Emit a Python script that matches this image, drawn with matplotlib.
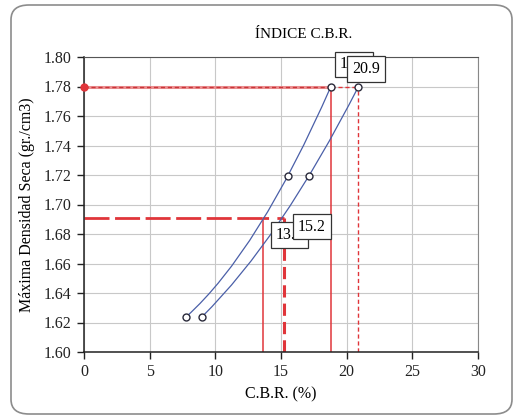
import numpy as np
import matplotlib.pyplot as plt
from matplotlib.path import Path
from matplotlib.patches import PathPatch, FancyBboxPatch

# ---------------- DATA ----------------
cbr_a = [7.8, 15.5, 18.8]
dens_a = [1.624, 1.719, 1.780]
cbr_b = [9.0, 17.1, 20.9]
dens_b = [1.624, 1.719, 1.780]

dens_max = 1.780
dens_95 = 1.691
cbr_95_a = 13.6
cbr_95_b = 15.2
cbr_100_a = 18.8
cbr_100_b = 20.9

x_ticks = [0, 5, 10, 15, 20, 25, 30]
y_ticks = [1.60, 1.62, 1.64, 1.66, 1.68, 1.70, 1.72, 1.74, 1.76, 1.78, 1.80]

plt.rcParams['font.family'] = ['Liberation Serif', 'DejaVu Serif']

BLUE = '#4a5fa8'
RED = '#e0353a'
LIGHT_RED = '#eb8f90'


# 2nd order trend curve through the 3 points, drawn as one quadratic bezier
def trend_path(xs, ys):
    c = np.polyfit(xs, ys, 2)
    x0, x2 = xs[0], xs[-1]
    y0, y2 = np.polyval(c, x0), np.polyval(c, x2)
    slope0 = np.polyval(np.polyder(c), x0)
    xc = (x0 + x2) / 2
    yc = y0 + slope0 * (x2 - x0) / 2
    return Path([(x0, y0), (xc, yc), (x2, y2)], [Path.MOVETO, Path.CURVE3, Path.CURVE3])


fig = plt.figure(figsize=(5.15, 4.17), dpi=100)
fig.patches.append(FancyBboxPatch((11 / 515, 3 / 417), 501 / 515, 409 / 417,
                                  boxstyle='round,pad=0,rounding_size=0.035',
                                  transform=fig.transFigure, fill=False,
                                  edgecolor='#8c8c8c', linewidth=1.2))

ax = fig.add_axes([84 / 515, 1 - 352 / 417, 394 / 515, 295 / 417])
ax.set_xlim(0, 30)
ax.set_ylim(1.60, 1.80)
ax.set_xticks(x_ticks)
ax.set_yticks(y_ticks)
ax.set_yticklabels([f'{v:.2f}' for v in y_ticks])
ax.grid(True, color='#c8c8c8', linewidth=0.8)
ax.set_axisbelow(True)
ax.tick_params(labelsize=11.5, length=5, width=1, direction='out', pad=4, colors='#222222')
for s in ['left', 'bottom']:
    ax.spines[s].set_color('#222222')
    ax.spines[s].set_linewidth(1.1)
ax.spines['top'].set_color('#555555')
ax.spines['right'].set_color('#888888')

# reference lines - maximum density
ax.plot([0, cbr_100_a], [dens_max, dens_max], color=LIGHT_RED, lw=2.2, solid_capstyle='butt')
ax.plot([0, cbr_100_a], [dens_max, dens_max], color='#c8353a', lw=1.0, ls=(0, (3, 2)))
ax.plot([cbr_100_a, cbr_100_b], [dens_max, dens_max], color=RED, lw=1.0, ls=(0, (3, 2)))
ax.plot([0], [dens_max], 'o', color=RED, ms=5, clip_on=False, zorder=5)
ax.plot([cbr_100_a, cbr_100_a], [1.60, dens_max], color=RED, lw=1.1)
ax.plot([cbr_100_b, cbr_100_b], [1.60, dens_max], color=RED, lw=1.0, ls=(0, (3, 2)))

# reference lines - 95% density
ax.plot([0, cbr_95_a], [dens_95, dens_95], color=RED, lw=2.0, ls=(0, (9, 2)))
ax.plot([cbr_95_a, cbr_95_b], [dens_95, dens_95], color=RED, lw=2.0, ls=(2, (4, 3)))
ax.plot([cbr_95_a, cbr_95_a], [1.60, dens_95], color=RED, lw=1.1)
ax.plot([cbr_95_b, cbr_95_b], [1.60, dens_95], color=RED, lw=2.2, ls=(0, (4, 2)))

# trend curves + points
for xs, ys in [(cbr_a, dens_a), (cbr_b, dens_b)]:
    ax.add_patch(PathPatch(trend_path(xs, ys), fill=False, edgecolor=BLUE, lw=0.9, zorder=4))
    ax.plot(xs, ys, 'o', mfc='white', mec='#2a2a3a', ms=5, mew=1.0, zorder=6)

# value labels
box = dict(boxstyle='square,pad=0.3', fc='white', ec='#333333', lw=0.9)
ax.text(cbr_95_a + 1.0, dens_95 - 0.0115, f'{cbr_95_a:.1f}', fontsize=11.5, ha='left', va='center', bbox=box, zorder=7)
ax.text(cbr_95_b + 1.1, dens_95 - 0.0060, f'{cbr_95_b:.1f}', fontsize=11.5, ha='left', va='center', bbox=box, zorder=8)
ax.text(cbr_100_a + 0.7, dens_max + 0.0150, f'{cbr_100_a:.1f}', fontsize=11.5, ha='left', va='center', bbox=box, zorder=7, clip_on=False)
ax.text(cbr_100_b - 0.5, dens_max + 0.0120, f'{cbr_100_b:.1f}', fontsize=11.5, ha='left', va='center', bbox=box, zorder=8, clip_on=False)

ax.set_xlabel('C.B.R. (%)', fontsize=11.5, labelpad=4)
ax.set_ylabel('Máxima Densidad Seca (gr./cm3)', fontsize=11.5, labelpad=6)
fig.text(304 / 515, 1 - 34 / 417, 'ÍNDICE C.B.R.', fontsize=11, ha='center', va='center')

fig.savefig('out.png', dpi=100)
